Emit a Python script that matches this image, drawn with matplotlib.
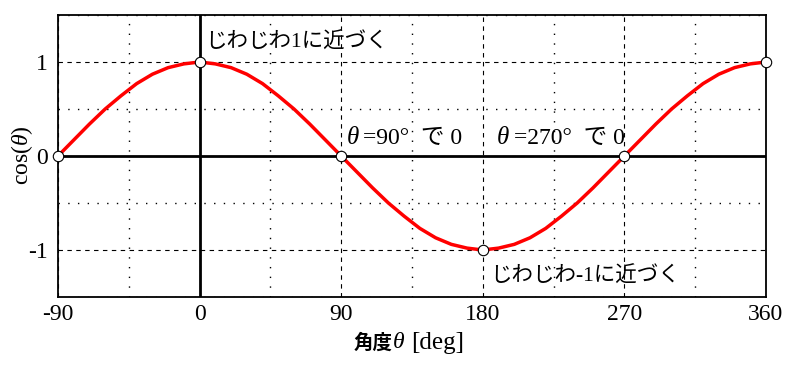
import matplotlib
matplotlib.use("Agg")
import matplotlib.pyplot as plt
from matplotlib.ticker import MultipleLocator

theta_deg = [-90, -80, -70, -60, -50, -40, -30, -20, -10, 0,
             10, 20, 30, 40, 50, 60, 70, 80, 90,
             100, 110, 120, 130, 140, 150, 160, 170, 180,
             190, 200, 210, 220, 230, 240, 250, 260, 270,
             280, 290, 300, 310, 320, 330, 340, 350, 360]
cos_val = [0.0, 0.17, 0.34, 0.5, 0.64, 0.77, 0.87, 0.94, 0.98, 1.0,
           0.98, 0.94, 0.87, 0.77, 0.64, 0.5, 0.34, 0.17, 0.0,
           -0.17, -0.34, -0.5, -0.64, -0.77, -0.87, -0.94, -0.98, -1.0,
           -0.98, -0.94, -0.87, -0.77, -0.64, -0.5, -0.34, -0.17, 0.0,
           0.17, 0.34, 0.5, 0.64, 0.77, 0.87, 0.94, 0.98, 1.0]
mark_x = [-90, 0, 90, 180, 270, 360]
mark_y = [0, 1, 0, -1, 0, 1]
xticks = [-90, 0, 90, 180, 270, 360]
yticks = [-1, 0, 1]

serif = ["Liberation Serif", "Noto Sans CJK JP"]
cjk = ["Noto Sans CJK JP", "Liberation Serif"]

plt.rcParams["mathtext.fontset"] = "custom"
plt.rcParams["mathtext.rm"] = "Liberation Serif"
plt.rcParams["mathtext.it"] = "Liberation Serif:italic"

fig = plt.figure(figsize=(8.03, 3.67), dpi=100)
ax = fig.add_axes([58 / 803, 1 - 297 / 367, 708 / 803, 282 / 367])

ax.set_xlim(-90, 360)
ax.set_ylim(-1.5, 1.5)

# grid: dashed majors, dotted minors
ax.xaxis.set_minor_locator(MultipleLocator(45))
ax.yaxis.set_minor_locator(MultipleLocator(0.5))
ax.set_xticks(xticks)
ax.set_yticks(yticks)
ax.grid(which="major", color="black", linestyle=(0, (4, 4)), linewidth=0.8)
ax.grid(which="minor", color="black", linestyle=(0, (1, 6)), linewidth=1.0)
ax.tick_params(which="both", length=0)
ax.set_xticklabels([str(t) for t in xticks], fontfamily=serif, fontsize=17)
ax.set_yticklabels([str(t) for t in yticks], fontfamily=serif, fontsize=17)
ax.tick_params(axis="x", pad=5)
ax.tick_params(axis="y", pad=7)

for s in ax.spines.values():
    s.set_linewidth(1.3)

ax.axhline(0, color="black", linewidth=2, zorder=2)
ax.axvline(0, color="black", linewidth=2, zorder=2)

ax.plot(theta_deg, cos_val, color="#ff0000", linewidth=2.5, zorder=3, clip_on=False)
ax.plot(mark_x, mark_y, linestyle="none", marker="o", markersize=7.5,
        markerfacecolor="white", markeredgecolor="black", markeredgewidth=0.8,
        zorder=4, clip_on=False)

# annotations
ax.text(3.5, 1.21, "じわじわ1に近づく", fontfamily=serif, fontsize=15.5, va="center", ha="left")
ax.text(184.5, -1.28, "じわじわ-1に近づく", fontfamily=serif, fontsize=15.5, va="center", ha="left")

def theta_note(x, y, rest, gap):
    ax.text(x, y, "θ", fontfamily=serif, fontstyle="italic", fontsize=18,
            va="center", ha="left")
    ax.annotate(rest, xy=(x, y), xytext=(gap, 0), textcoords="offset points",
                fontfamily=serif, fontsize=17, va="center", ha="left")

theta_note(93.5, 0.19, "=90°  で 0", 12)
theta_note(189.0, 0.19, "=270°  で 0", 12)

# axis labels, x label built from pieces for the italic theta
ylab = 1 - 343 / 367
fig.text(354 / 803, ylab, "角度", fontfamily=cjk, fontsize=14, fontweight="bold",
         va="center", ha="left")
fig.text(393 / 803, ylab, "θ", fontfamily=serif, fontstyle="italic", fontsize=17,
         va="center", ha="left")
fig.text(411 / 803, ylab, "[deg]", fontfamily=serif, fontsize=18, va="center", ha="left")

fig.text(22 / 803, 1 - 155 / 367, r"cos($\theta$)", fontfamily=serif, fontsize=17,
         rotation=90, va="center", ha="center")

fig.savefig("out.png", dpi=100)
